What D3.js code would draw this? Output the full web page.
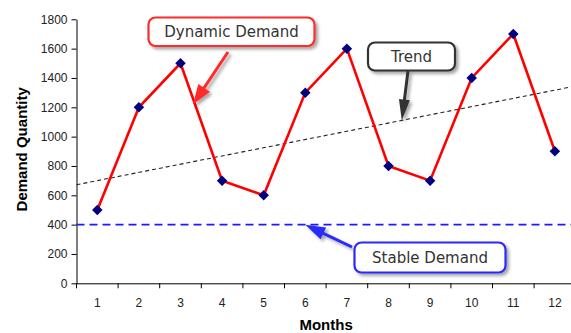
<!DOCTYPE html>
<html>
<head>
<meta charset="utf-8">
<script src="https://cdn.jsdelivr.net/npm/d3@7/dist/d3.min.js"></script>
<style>
  html, body { margin: 0; padding: 0; background: #fff; }
  svg { display: block; }
  .tick text { font-family: "Liberation Sans", Arial, sans-serif; font-size: 12px; fill: #222; }
</style>
</head>
<body>
<svg id="chart" width="571" height="333"></svg>
<script>
// Monthly demand
const months = ["1","2","3","4","5","6","7","8","9","10","11","12"];
const demand = [500, 1200, 1500, 700, 600, 1300, 1600, 800, 700, 1400, 1700, 900];
// Trend line end values (at the left and right plot edges)
const trendEnds = [672, 1345];
// Constant demand level
const stableLevel = 400;
const yTicks = [0, 200, 400, 600, 800, 1000, 1200, 1400, 1600, 1800];

const svg = d3.select("#chart");
const plotL = 76.5, plotR = 575.7, plotT = 19.3, plotB = 283.3;

const x = d3.scaleBand().domain(months).range([plotL, plotR]).paddingInner(0).paddingOuter(0);
const xc = d3.scaleLinear().domain([0.5, months.length + 0.5]).range([plotL, plotR]);
const y = d3.scaleLinear().domain([0, 1800]).range([plotB, plotT]);

// soft drop shadow for callouts
const defs = svg.append("defs");
const f = defs.append("filter").attr("id", "shadow")
  .attr("x", "-20%").attr("y", "-40%").attr("width", "150%").attr("height", "200%");
f.append("feDropShadow").attr("dx", 2.5).attr("dy", 2.5).attr("stdDeviation", 1.8)
  .attr("flood-color", "#000").attr("flood-opacity", 0.35);

// axes
const yAxis = svg.append("g").attr("transform", `translate(${plotL},0)`)
  .call(d3.axisLeft(y).tickValues(yTicks).tickFormat(d3.format("d"))
    .tickSize(5).tickPadding(4).tickSizeOuter(0));
yAxis.select(".domain").attr("stroke", "#000");
yAxis.selectAll(".tick line").attr("stroke", "#000");

const xAxis = svg.append("g").attr("transform", `translate(0,${plotB})`)
  .call(d3.axisBottom(x).tickSize(0).tickPadding(15));
xAxis.select(".domain").attr("stroke", "#000");
// tick marks sit on the band boundaries
xAxis.selectAll(".bound").data(d3.range(months.length + 1)).join("line")
  .attr("class", "bound")
  .attr("x1", i => plotL + i * x.bandwidth()).attr("x2", i => plotL + i * x.bandwidth())
  .attr("y1", 0).attr("y2", 5).attr("stroke", "#000");

// axis titles
svg.append("text")
  .attr("x", (plotL + plotR) / 2).attr("y", 330)
  .attr("text-anchor", "middle")
  .style("font-family", "'Liberation Sans', Arial, sans-serif")
  .style("font-weight", "bold").style("font-size", "15px").attr("fill", "#000")
  .text("Months");
svg.append("text")
  .attr("transform", `translate(27,${(plotT + plotB) / 2 - 2}) rotate(-90)`)
  .attr("text-anchor", "middle")
  .style("font-family", "'Liberation Sans', Arial, sans-serif")
  .style("font-weight", "bold").style("font-size", "15px").attr("fill", "#000")
  .text("Demand Quantity");

// stable demand line
svg.append("line")
  .attr("x1", xc(0.5)).attr("x2", xc(months.length + 0.5))
  .attr("y1", y(stableLevel)).attr("y2", y(stableLevel))
  .attr("stroke", "#1a1aff").attr("stroke-width", 1.6).attr("stroke-dasharray", "8,5");

// trend line
svg.append("line")
  .attr("x1", xc(0.5)).attr("y1", y(trendEnds[0]))
  .attr("x2", xc(months.length + 0.5)).attr("y2", y(trendEnds[1]))
  .attr("stroke", "#222").attr("stroke-width", 1.1).attr("stroke-dasharray", "4,3");

// dynamic demand series
const line = d3.line().x((d, i) => x(months[i]) + x.bandwidth() / 2).y(d => y(d));
svg.append("path").datum(demand)
  .attr("d", line).attr("fill", "none").attr("stroke", "#ff0000").attr("stroke-width", 2.6);

svg.selectAll(".pt").data(demand).join("path")
  .attr("class", "pt")
  .attr("d", d3.symbol(d3.symbolSquare, 55))
  .attr("transform", (d, i) => `translate(${x(months[i]) + x.bandwidth() / 2},${y(d)}) rotate(45)`)
  .attr("fill", "#000080");

// callouts
function arrowPath(x1, y1, x2, y2, sw, hl, hw) {
  const dx = x2 - x1, dy = y2 - y1, L = Math.hypot(dx, dy);
  const ux = dx / L, uy = dy / L, px = -uy, py = ux;
  const bx = x2 - ux * hl, by = y2 - uy * hl;
  const p = [
    [x1 + px * sw / 2, y1 + py * sw / 2],
    [bx + px * sw / 2, by + py * sw / 2],
    [bx + px * hw / 2, by + py * hw / 2],
    [x2, y2],
    [bx - px * hw / 2, by - py * hw / 2],
    [bx - px * sw / 2, by - py * sw / 2],
    [x1 - px * sw / 2, y1 - py * sw / 2]
  ];
  return "M" + p.map(q => q.join(",")).join("L") + "Z";
}

function callout(o) {
  const g = svg.append("g").attr("filter", "url(#shadow)");
  g.append("path")
    .attr("d", arrowPath(o.from[0], o.from[1], o.tip[0], o.tip[1], 3, o.hl, o.hw))
    .attr("fill", o.color);
  g.append("rect")
    .attr("x", o.box[0]).attr("y", o.box[1]).attr("width", o.box[2]).attr("height", o.box[3])
    .attr("rx", 7).attr("ry", 7)
    .attr("fill", "#fff").attr("stroke", o.color).attr("stroke-width", 2.2);
  svg.append("text")
    .attr("x", o.box[0] + o.box[2] / 2).attr("y", o.box[1] + o.box[3] / 2 + 5.5)
    .attr("text-anchor", "middle")
    .style("font-family", "'DejaVu Sans', Verdana, sans-serif").style("font-size", "15px")
    .attr("fill", "#333").text(o.text);
}

callout({
  text: "Dynamic Demand", color: "#ff2a2a",
  box: [148.5, 17.5, 166, 28.5],
  from: [228, 52], tip: [xc(3.3), y(demand[2] + 0.3 * (demand[3] - demand[2])) + 6],
  hl: 20, hw: 14
});
callout({
  text: "Trend", color: "#333",
  box: [368, 42.5, 87, 28],
  from: [408, 71], tip: [xc(8.32), y(trendEnds[0] + (8.32 - 0.5) / 12 * (trendEnds[1] - trendEnds[0]))],
  hl: 21, hw: 11
});
callout({
  text: "Stable Demand", color: "#2a2aff",
  box: [354.5, 242.5, 151, 30],
  from: [352, 247], tip: [xc(6.0), y(stableLevel)],
  hl: 20, hw: 13
});
</script>
</body>
</html>
